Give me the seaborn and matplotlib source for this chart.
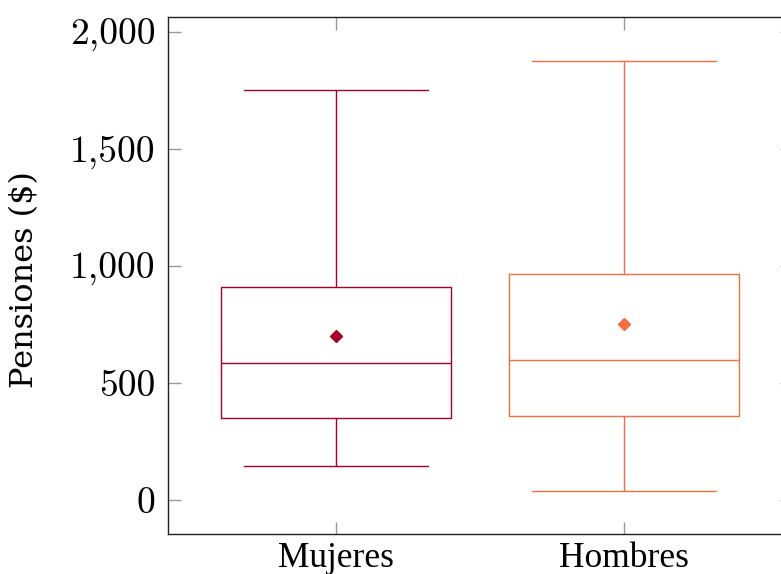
import matplotlib
matplotlib.use("Agg")
import matplotlib.pyplot as plt
from matplotlib.ticker import FuncFormatter
import seaborn as sns

# resumen de pensiones por grupo
grupos = ["Mujeres", "Hombres"]
minimo = [145, 38]
q1 = [351, 358]
mediana = [586, 597]
q3 = [911, 966]
maximo = [1752, 1876]
media = [702, 752]
colores = ["#a50026", "#f46d43"]

sns.set_theme(style="ticks")
plt.rcParams["axes.formatter.use_mathtext"] = True
plt.rcParams["text.color"] = "black"
plt.rcParams["axes.labelcolor"] = "black"
plt.rcParams["xtick.labelcolor"] = "black"
plt.rcParams["ytick.labelcolor"] = "black"

fig = plt.figure(figsize=(7.81, 5.74), dpi=100)
ax = fig.add_axes([168 / 781, 1 - 534 / 574, (792 - 168) / 781, (534 - 17) / 574])

for i, g in enumerate(grupos):
    stats = [{
        "label": g,
        "whislo": minimo[i],
        "q1": q1[i],
        "med": mediana[i],
        "q3": q3[i],
        "whishi": maximo[i],
        "mean": media[i],
        "fliers": [],
    }]
    c = colores[i]
    lp = dict(color=c, linewidth=1.0)
    ax.bxp(stats, positions=[i + 1], widths=0.8, capwidths=0.64,
           showmeans=True, showfliers=False, manage_ticks=False,
           boxprops=lp, medianprops=lp, whiskerprops=lp, capprops=lp,
           meanprops=dict(marker="D", markersize=6.5, markerfacecolor=c,
                          markeredgecolor=c, linestyle="none"))

ax.set_xlim(0.417, 2.583)
ax.set_ylim(-145, 2064)
ax.set_xticks([1, 2])
ax.set_xticklabels(grupos)
ax.set_yticks([0, 500, 1000, 1500, 2000])
ax.yaxis.set_major_formatter(FuncFormatter(lambda v, p: f"{v:,.0f}"))

ax.tick_params(axis="both", direction="in", length=9, width=1, color="#999999",
               top=True, right=True)
ax.tick_params(axis="y", pad=9, labelsize=27)
ax.tick_params(axis="x", pad=5.5, labelsize=25.5)
for lbl in ax.get_yticklabels():
    lbl.set_fontfamily("cmr10")
for lbl in ax.get_xticklabels():
    lbl.set_fontfamily("Liberation Serif")

for s in ax.spines.values():
    s.set_color("#222222")
    s.set_linewidth(1.0)

ax.set_ylabel("Pensiones ($)", fontsize=23, fontfamily="DejaVu Serif")
ax.yaxis.set_label_coords(-0.205, 0.493)

fig.savefig("out.png", dpi=100)
